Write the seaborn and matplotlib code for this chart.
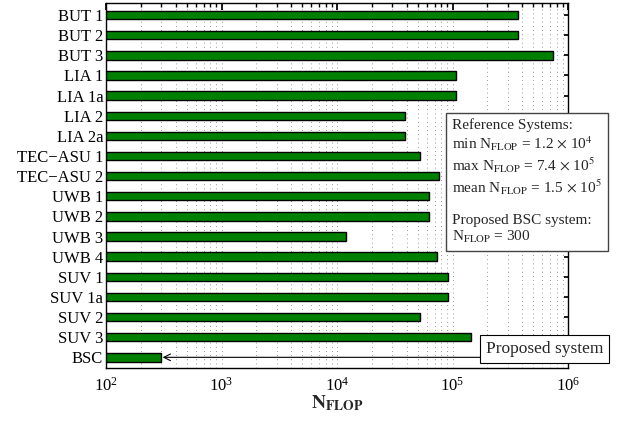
import matplotlib
matplotlib.use("Agg")
import matplotlib.pyplot as plt
import numpy as np
import pandas as pd
import seaborn as sns
from matplotlib.ticker import LogLocator

systems = ["BUT 1", "BUT 2", "BUT 3", "LIA 1", "LIA 1a", "LIA 2", "LIA 2a",
           "TEC\u2212ASU 1", "TEC\u2212ASU 2", "UWB 1", "UWB 2", "UWB 3", "UWB 4",
           "SUV 1", "SUV 1a", "SUV 2", "SUV 3", "BSC"]
nflop = [3.7e5, 3.7e5, 7.4e5, 1.08e5, 1.08e5, 3.9e4, 3.9e4,
         5.2e4, 7.6e4, 6.2e4, 6.2e4, 1.2e4, 7.4e4,
         9.1e4, 9.1e4, 5.2e4, 1.44e5, 300]

df = pd.DataFrame({"system": systems, "nflop": nflop})

sns.set_theme(style="white")
plt.rcParams.update({
    "font.family": ["Liberation Serif", "DejaVu Serif"],
    "mathtext.fontset": "stix",
    "axes.linewidth": 1.0,
})

fig = plt.figure(figsize=(6.21, 4.21), dpi=100)
ax = fig.add_axes([0.1707, 0.1259, 0.744, 0.867])
ax.set_xscale("log")

sns.barplot(data=df, x="nflop", y="system", orient="h", order=systems,
            color="#008000", saturation=1, width=0.42,
            edgecolor="black", linewidth=1.0, ax=ax)

ax.set_xlim(1e2, 1e6)
ax.set_ylim(len(systems) - 0.5 + 0.03, -0.5 - 0.1)
ax.xaxis.set_major_locator(LogLocator(base=10))
ax.xaxis.set_minor_locator(LogLocator(base=10, subs=np.arange(2, 10)))
ax.grid(True, which="both", axis="x", color="#777777", linestyle=(0, (1, 4)), linewidth=0.6)
ax.set_axisbelow(True)
ax.tick_params(axis="both", which="both", direction="in", top=True, right=True,
               labelsize=12, colors="black")
ax.tick_params(axis="x", which="major", length=5, pad=6)
ax.tick_params(axis="x", which="minor", length=3)
ax.tick_params(axis="y", length=3, pad=2)
for s in ax.spines.values():
    s.set_color("black")
    s.set_visible(True)

ax.set_ylabel("")
ax.set_xlabel(r"$\mathbf{N}_{\mathbf{FLOP}}$", fontsize=14, labelpad=-1)

info = ("Reference Systems:\n"
        r"min N$_{\mathrm{FLOP}}$ = 1.2 $\times$ 10$^4$" "\n"
        r"max N$_{\mathrm{FLOP}}$ = 7.4 $\times$ 10$^5$" "\n"
        r"mean N$_{\mathrm{FLOP}}$ = 1.5 $\times$ 10$^5$" "\n\n"
        "Proposed BSC system:\n"
        r"N$_{\mathrm{FLOP}}$ = 300")
fig.text(452 / 621, 1 - 118 / 421, info, ha="left", va="top", fontsize=11,
         linespacing=1.18,
         bbox=dict(boxstyle="square,pad=0.4", facecolor="white",
                   edgecolor="#444444", linewidth=1.0))

bsc_idx = systems.index("BSC")
ax.annotate("", xy=(nflop[bsc_idx] * 1.03, bsc_idx), xytext=(1.73e5, bsc_idx),
            arrowprops=dict(arrowstyle="->", color="black", lw=0.8,
                            shrinkA=0, shrinkB=0), annotation_clip=False)
ax.text(1.95e5, bsc_idx - 0.42, "Proposed system", ha="left", va="center",
        fontsize=12.5, clip_on=False,
        bbox=dict(boxstyle="square,pad=0.35", facecolor="white",
                  edgecolor="black", linewidth=0.8))

fig.savefig("out.png", dpi=100)
